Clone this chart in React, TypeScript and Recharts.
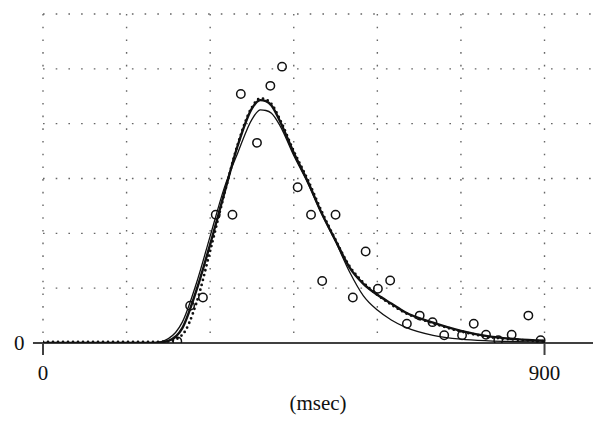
import React from "react";
import {
  ComposedChart,
  Line,
  Scatter,
  XAxis,
  YAxis,
  CartesianGrid,
  ReferenceLine,
} from "recharts";

// time grid of the fitted curves (msec)
const curveMs = [0, 50, 100, 150, 200, 225, 250, 275, 300, 325, 350, 375, 390, 400, 410, 425, 450, 475, 500, 525, 550, 575, 600, 625, 650, 700, 750, 800, 850, 900];
// thick solid fit
const fitThick = [0, 0, 0, 0, 0, 0.04, 0.27, 0.95, 1.8, 2.72, 3.62, 4.28, 4.43, 4.41, 4.33, 4.05, 3.47, 2.95, 2.37, 1.87, 1.38, 1.08, 0.88, 0.72, 0.56, 0.37, 0.22, 0.12, 0.07, 0.04];
// thin solid fit
const fitThin = [0, 0, 0, 0, 0.005, 0.08, 0.38, 1.08, 1.95, 2.82, 3.48, 4.08, 4.25, 4.24, 4.19, 3.97, 3.42, 2.92, 2.36, 1.85, 1.3, 0.86, 0.6, 0.42, 0.29, 0.14, 0.07, 0.04, 0.025, 0.015];
// dotted fit
const fitDotted = [0.02, 0.02, 0.02, 0.02, 0.02, 0.03, 0.15, 0.72, 1.68, 2.7, 3.64, 4.3, 4.46, 4.44, 4.36, 4.08, 3.5, 2.98, 2.4, 1.88, 1.4, 1.1, 0.88, 0.7, 0.55, 0.36, 0.21, 0.11, 0.06, 0.03];

// measured samples (open circles)
const sampleMs = [241, 264, 287, 310, 340, 355, 384, 408, 429, 457, 481, 501, 525, 556, 579, 601, 623, 653, 676, 699, 720, 752, 773, 795, 817, 841, 871, 893];
const sampleVal = [0.03, 0.68, 0.83, 2.34, 2.34, 4.54, 3.65, 4.69, 5.04, 2.84, 2.34, 1.13, 2.34, 0.83, 1.67, 0.99, 1.14, 0.35, 0.5, 0.38, 0.14, 0.14, 0.35, 0.15, 0.05, 0.15, 0.5, 0.05];

const xTicks = [0, 900];
const yTicks = [0];
const gridMs = [0, 150, 300, 450, 600, 750, 900];
const gridLevels = [1, 2, 3, 4, 5, 6];

const X_MAX = 987;
const FONT = "'Liberation Serif', 'DejaVu Serif', serif";

const curveData = curveMs.map((t, i) => ({
  t,
  thick: fitThick[i],
  thin: fitThin[i],
  dotted: fitDotted[i],
}));
const sampleData = sampleMs.map((t, i) => ({ t, v: sampleVal[i] }));

const XTick = (props: any) => {
  const { x, payload } = props;
  return (
    <text x={x} y={380} textAnchor="middle" fontFamily={FONT} fontSize={21} fill="#111">
      {payload.value}
    </text>
  );
};

const YTick = (props: any) => {
  const { y, payload } = props;
  return (
    <text x={24.5} y={y} dy="0.35em" textAnchor="end" fontFamily={FONT} fontSize={21} fill="#111">
      {payload.value}
    </text>
  );
};

const OpenCircle = (props: any) => {
  const { cx, cy } = props;
  return <circle cx={cx} cy={cy} r={4.2} fill="none" stroke="#111" strokeWidth={1.5} />;
};

export default function App() {
  return (
    <div style={{ position: "absolute", left: 0, top: 0, background: "#fff" }}>
      <ComposedChart
        width={607}
        height={430}
        data={curveData}
        margin={{ top: 14, right: 14, left: 0, bottom: 0 }}
      >
        <CartesianGrid
          stroke="#666"
          strokeDasharray="1.6 11.1"
          strokeWidth={1.4}
          verticalValues={gridMs}
          horizontalValues={gridLevels}
        />
        <XAxis
          dataKey="t"
          type="number"
          domain={[0, X_MAX]}
          allowDataOverflow
          ticks={xTicks}
          interval={0}
          height={87}
          axisLine={false}
          tickSize={12}
          tickLine={{ stroke: "#404040", strokeWidth: 2 }}
          tick={<XTick />}
          label={{
            value: "(msec)",
            position: "insideBottom",
            offset: 20,
            fontFamily: FONT,
            fontSize: 21,
            fill: "#111",
          }}
        />
        <YAxis
          type="number"
          domain={[0, 6]}
          allowDataOverflow
          ticks={yTicks}
          width={43}
          axisLine={false}
          tickLine={false}
          tick={<YTick />}
        />
        <ReferenceLine
          segment={[{ x: -18, y: 0 }, { x: X_MAX, y: 0 }]}
          stroke="#404040"
          strokeWidth={2}
          ifOverflow="visible"
        />
        <Line
          type="monotone"
          dataKey="thin"
          stroke="#111"
          strokeWidth={1.3}
          dot={false}
          activeDot={false}
          isAnimationActive={false}
        />
        <Line
          type="monotone"
          dataKey="dotted"
          stroke="#111"
          strokeWidth={2.8}
          strokeDasharray="0 5"
          strokeLinecap="round"
          dot={false}
          activeDot={false}
          isAnimationActive={false}
        />
        <Line
          type="monotone"
          dataKey="thick"
          stroke="#111"
          strokeWidth={2.4}
          dot={false}
          activeDot={false}
          isAnimationActive={false}
        />
        <Scatter
          data={sampleData}
          dataKey="v"
          shape={<OpenCircle />}
          isAnimationActive={false}
        />
      </ComposedChart>
    </div>
  );
}
